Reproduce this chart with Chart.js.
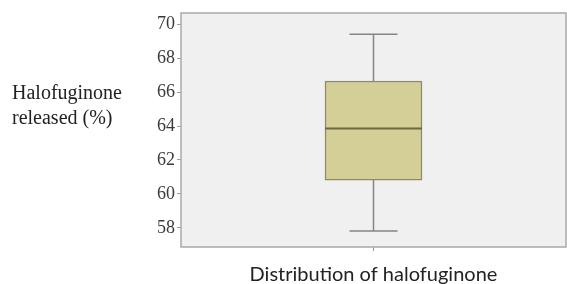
<!DOCTYPE html>
<html>
<head>
<meta charset="utf-8">
<script src="https://cdn.jsdelivr.net/npm/chart.js@4/dist/chart.umd.min.js"></script>
<style>
  html, body { margin: 0; padding: 0; background: #fff; }
  #wrap { position: relative; width: 567px; height: 284px; }
  #ytitle {
    position: absolute; left: 12px; top: 80px;
    font-family: "Liberation Serif", serif; font-size: 20px; line-height: 25px;
    color: #222;
  }
</style>
</head>
<body>
<div id="wrap">
  <canvas id="myChart" width="567" height="284"></canvas>
  <div id="ytitle">Halofuginone<br>released (%)</div>
</div>
<script>
const ctx = document.getElementById('myChart');

// box plot values
const categories = ['Distribution of halofuginone'];
const whiskerLow = [57.82];
const q1 = [60.82];
const median = [63.86];
const q3 = [66.65];
const whiskerHigh = [69.4];
const yTicks = [58, 60, 62, 64, 66, 68, 70];

// background + frame of the plot area
const frame = {
  id: 'frame',
  beforeDatasetsDraw(chart) {
    const a = chart.chartArea, c = chart.ctx;
    c.save();
    c.fillStyle = '#f0f0f0';
    c.fillRect(a.left, a.top, a.right - a.left, a.bottom - a.top);
    c.strokeStyle = '#a9a9a9';
    c.lineWidth = 1.5;
    c.strokeRect(a.left, a.top, a.right - a.left, a.bottom - a.top);
    c.restore();
  }
};

// whiskers and median line
const boxExtras = {
  id: 'boxExtras',
  beforeDatasetsDraw(chart) {
    const c = chart.ctx, x = chart.scales.x, y = chart.scales.y;
    c.save();
    c.strokeStyle = '#858585';
    c.lineWidth = 1.5;
    categories.forEach((cat, i) => {
      const cx = x.getPixelForValue(i);
      const half = 24;
      c.beginPath();
      c.moveTo(cx, y.getPixelForValue(q3[i]));
      c.lineTo(cx, y.getPixelForValue(whiskerHigh[i]));
      c.moveTo(cx - half, y.getPixelForValue(whiskerHigh[i]));
      c.lineTo(cx + half, y.getPixelForValue(whiskerHigh[i]));
      c.moveTo(cx, y.getPixelForValue(q1[i]));
      c.lineTo(cx, y.getPixelForValue(whiskerLow[i]));
      c.moveTo(cx - half, y.getPixelForValue(whiskerLow[i]));
      c.lineTo(cx + half, y.getPixelForValue(whiskerLow[i]));
      c.stroke();
    });
    c.restore();
  },
  afterDatasetsDraw(chart) {
    const c = chart.ctx, y = chart.scales.y;
    const meta = chart.getDatasetMeta(0);
    c.save();
    c.strokeStyle = '#6c6a42';
    c.lineWidth = 2;
    categories.forEach((cat, i) => {
      const bar = meta.data[i];
      const w = bar.width / 2;
      const my = y.getPixelForValue(median[i]);
      c.beginPath();
      c.moveTo(bar.x - w, my);
      c.lineTo(bar.x + w, my);
      c.stroke();
    });
    c.restore();
  }
};

const data = {
  labels: categories,
  datasets: [{
    data: categories.map((c, i) => [q1[i], q3[i]]),
    backgroundColor: '#d3cf97',
    borderColor: '#8e8b5f',
    borderWidth: 1.5,
    borderSkipped: false,
    barThickness: 97
  }]
};

const config = {
  type: 'bar',
  data: data,
  options: {
    responsive: false,
    animation: false,
    layout: { padding: { left: 120, top: 13, right: 1, bottom: 0 } },
    plugins: { legend: { display: false }, tooltip: { enabled: false } },
    scales: {
      x: {
        grid: { display: true, drawOnChartArea: false, offset: false, tickLength: 4, color: '#9a9a9a' },
        border: { display: false },
        ticks: { display: false },
        title: {
          display: true,
          text: categories[0],
          font: { family: 'Lato', size: 20 },
          color: '#222',
          padding: { top: 5, bottom: -3 }
        },
        afterFit(scale) { scale.height = 37; }
      },
      y: {
        min: 56.88,
        max: 70.65,
        afterBuildTicks(scale) { scale.ticks = yTicks.map(v => ({ value: v })); },
        grid: { display: true, drawOnChartArea: false, tickLength: 4, color: '#9a9a9a' },
        border: { display: false },
        ticks: {
          padding: 2,
          font: { family: 'Liberation Serif', size: 18 },
          color: '#3a3a3a'
        },
        afterFit(scale) { scale.width = 61; }
      }
    }
  },
  plugins: [frame, boxExtras]
};

const myChart = new Chart(ctx, config);
</script>
</body>
</html>
